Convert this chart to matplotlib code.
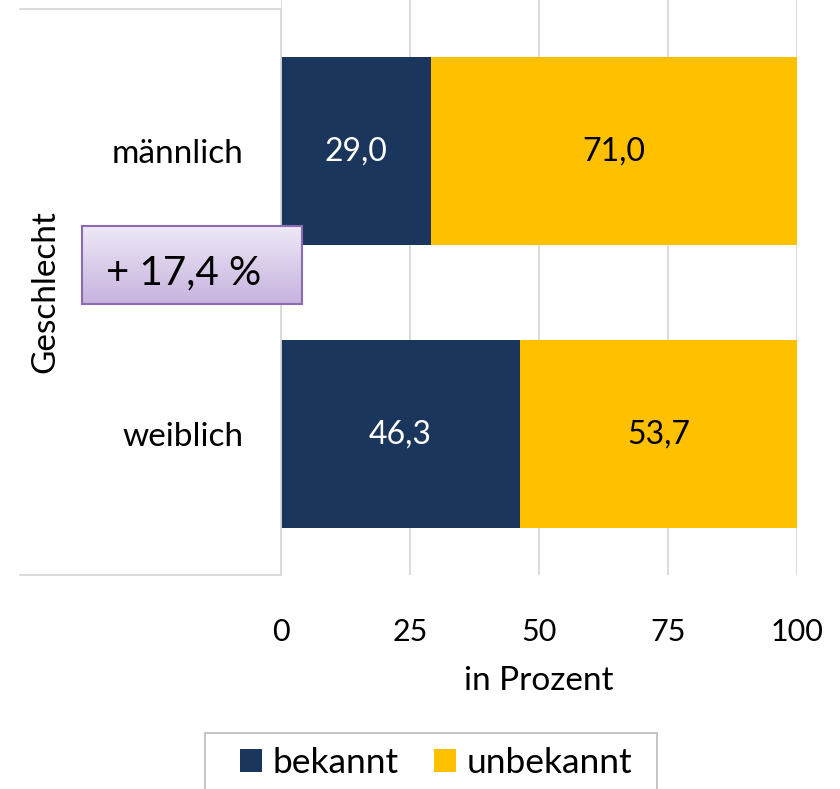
import numpy as np
import matplotlib.pyplot as plt
from matplotlib.lines import Line2D
from matplotlib.patches import Rectangle
from matplotlib.colors import LinearSegmentedColormap

plt.rcParams['font.family'] = ['Lato', 'DejaVu Sans']

kategorien = ["weiblich", "männlich"]
bekannt = [46.3, 29.0]
unbekannt = [53.7, 71.0]
ticks = [0, 25, 50, 75, 100]
differenz = "+ 17,4 %"

c_bek = "#1B365D"
c_unb = "#FFC000"
grau = "#D9D9D9"

W, H = 840, 789
fig = plt.figure(figsize=(W / 100, H / 100), dpi=100)

# bar area (pixels 281..797 x, 0..575 y)
ax = fig.add_axes([281 / W, 1 - 575 / H, (797 - 281) / W, 575 / H])
y = np.arange(len(kategorien))
ax.barh(y, bekannt, height=0.665, color=c_bek, label="bekannt", zorder=3)
ax.barh(y, unbekannt, left=bekannt, height=0.665, color=c_unb, label="unbekannt", zorder=3)

for i in range(len(kategorien)):
    ax.text(bekannt[i] / 2, y[i], f"{bekannt[i]:.1f}".replace(".", ","),
            ha="center", va="center", color="white", fontsize=23, zorder=4)
    ax.text(bekannt[i] + unbekannt[i] / 2, y[i], f"{unbekannt[i]:.1f}".replace(".", ","),
            ha="center", va="center", color="black", fontsize=23, zorder=4)

ax.set_xlim(0, 100)
ax.set_ylim(-0.498, 1.534)
ax.set_xticks(ticks)
ax.set_xticklabels([str(t) for t in ticks], fontsize=22)
ax.set_yticks(y)
ax.set_yticklabels(kategorien, fontsize=24)
ax.tick_params(axis="x", length=0, pad=31)
ax.tick_params(axis="y", length=0, pad=27)
ax.xaxis.grid(True, color=grau, linewidth=1.3, zorder=0)
for s in ["top", "right", "bottom", "left"]:
    ax.spines[s].set_visible(False)
ax.set_xlabel("in Prozent", fontsize=24, labelpad=14)

# frame around the category area
fig.add_artist(Line2D([20 / W, 281 / W], [1 - 9 / H, 1 - 9 / H], color=grau, lw=1.3))
fig.add_artist(Line2D([20 / W, 281 / W], [1 - 575 / H, 1 - 575 / H], color=grau, lw=1.3))
fig.add_artist(Line2D([281 / W, 281 / W], [1 - 9 / H, 1 - 575 / H], color=grau, lw=1.3))

fig.text(45 / W, 1 - 292 / H, "Geschlecht", rotation=90, ha="center", va="center", fontsize=24)

# purple callout box with gradient
bx = fig.add_axes([82 / W, 1 - 304 / H, (302 - 82) / W, (304 - 226) / H], zorder=5)
grad = np.linspace(0, 1, 100).reshape(-1, 1)
cm = LinearSegmentedColormap.from_list("lila", ["#EEE8F6", "#C6B3DF"])
bx.imshow(grad, aspect="auto", cmap=cm, extent=[0, 1, 0, 1], origin="upper")
bx.set_xlim(0, 1)
bx.set_ylim(0, 1)
bx.set_xticks([])
bx.set_yticks([])
for s in bx.spines.values():
    s.set_color("#8A6BB0")
    s.set_linewidth(1.5)
bx.text(0.46, 0.4, differenz, ha="center", va="center", fontsize=29)

# legend with its own frame
fig.add_artist(Rectangle((205 / W, 1 - 810 / H), (657 - 205) / W, (810 - 733) / H,
                         transform=fig.transFigure, facecolor="white",
                         edgecolor="#BFBFBF", linewidth=1.3))
leg = fig.legend(loc="center left", bbox_to_anchor=(240 / W, 1 - 763 / H), ncol=2,
                 fontsize=25.5, frameon=False,
                 handlelength=0.62, handleheight=0.62, handletextpad=0.3,
                 columnspacing=1.0, borderpad=0, borderaxespad=0)

fig.savefig("out.png", dpi=100)
